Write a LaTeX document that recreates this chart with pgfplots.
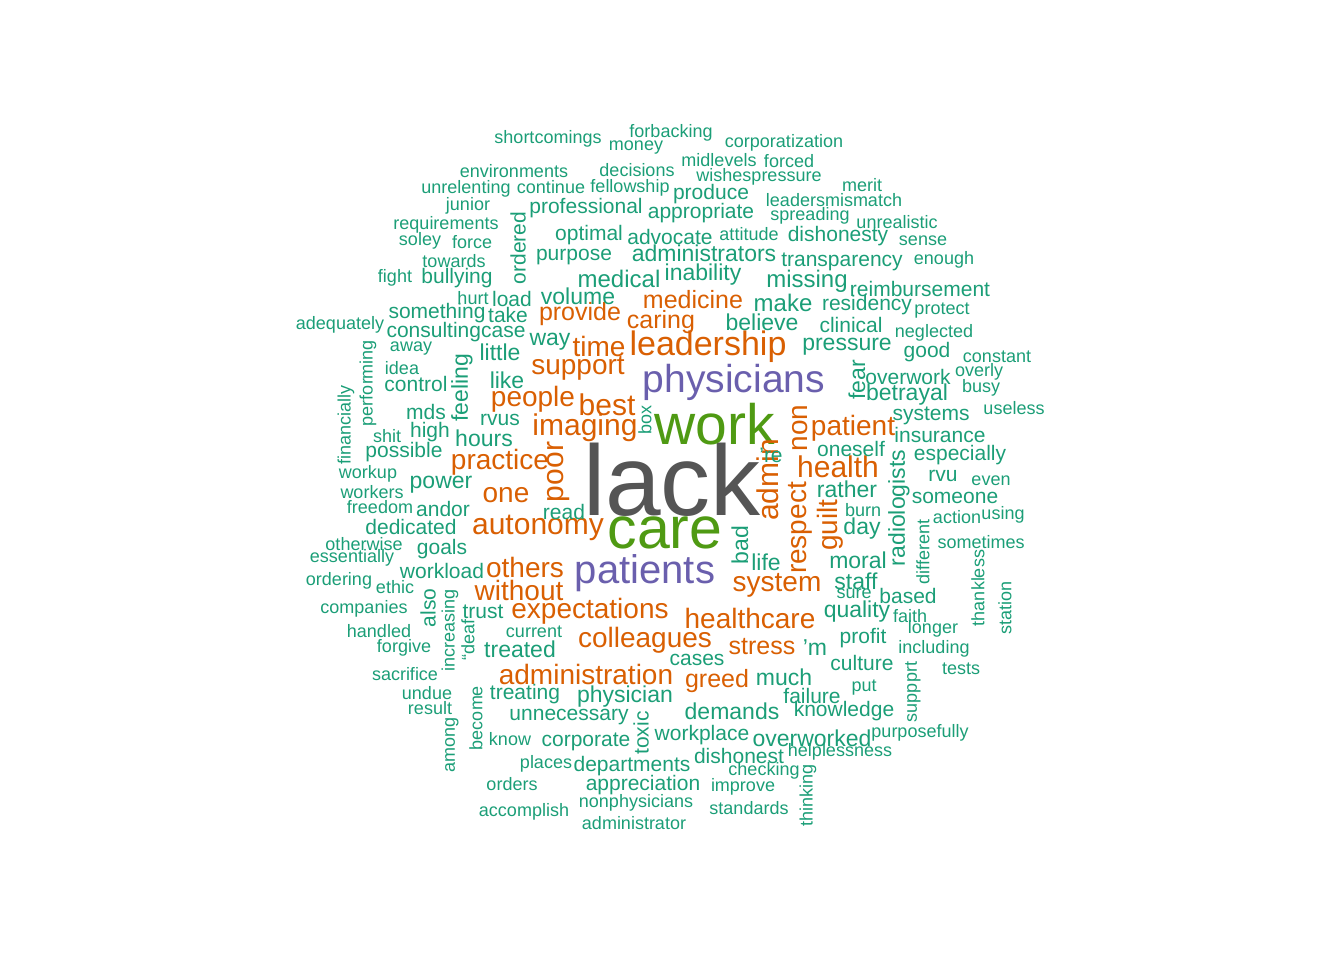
\documentclass[border=0pt]{standalone}
\usepackage{pgfplots}
\usepackage{pgfplotstable}
\pgfplotsset{compat=1.18}
\usepackage{fontspec}
\setmainfont{Liberation Sans}
\definecolor{cgray}{HTML}{555555}
\definecolor{cgreen}{HTML}{4F9A13}
\definecolor{cpurple}{HTML}{6A5FAD}
\definecolor{corange}{HTML}{D95F02}
\definecolor{cteal}{HTML}{1B9E77}
\pgfplotstableread{
x y fs rot word
672 480 100 0 lack
}\tgray
\pgfplotstableread{
x y fs rot word
715 424 57 0 work
665 533 59 0 care
}\tgreen
\pgfplotstableread{
x y fs rot word
734 382 39 0 physicians
645 573 40 0 patients
}\tpurple
\pgfplotstableread{
x y fs rot word
693 300 25 0 medicine
580 314 25 0 provide
661 322 25 0 caring
599 346 28 0 time
708 347 34 0 leadership
578 368 28 0 support
533 399 28 0 people
607 405 30 0 best
585 428 30 0 imaging
800 428 28 90 non
853 428 28 0 patient
838 467 30 0 health
500 462 28 0 practice
559 472 30 90 poor
768 480 30 90 admin
506 495 28 0 one
800 528 28 90 respect
830 525 28 90 guilt
538 528 30 0 autonomy
525 567 28 0 others
777 585 28 0 system
519 590 28 0 without
590 611 28 0 expectations
750 618 28 0 healthcare
645 640 28 0 colleagues
762 647 25 0 stress
586 674 28 0 administration
717 681 25 0 greed
}\torange
\pgfplotstableread{
x y fs rot word
548 139 18 0 shortcomings
671 133 18 0 forbacking
636 148 18 0 money
784 143 18 0 corporatization
514 171 18 0 environments
637 170 18 0 decisions
719 160 18 0 midlevels
789 161 18 0 forced
466 189 18 0 unrelenting
551 187 18 0 continue
630 188 18 0 fellowship
759 177 18 0 wishespressure
711 194 21 0 produce
862 185 18 0 merit
468 206 18 0 junior
586 208 21 0 professional
701 213 21 0 appropriate
834 200 18 0 leadersmismatch
446 225 18 0 requirements
518 248 21 90 ordered
810 216 18 0 spreading
897 222 18 0 unrealistic
420 241 18 0 soley
472 242 18 0 force
589 235 21 0 optimal
670 237 21 0 advocate
749 234 18 0 attitude
838 236 21 0 dishonesty
923 241 18 0 sense
454 261 18 0 towards
574 257 21 0 purpose
704 253 23 0 administrators
842 262 21 0 transparency
944 260 18 0 enough
395 278 18 0 fight
457 278 21 0 bullying
619 279 24 0 medical
703 275 23 0 inability
807 281 24 0 missing
920 289 21 0 reimbursement
473 298 18 0 hurt
512 299 21 0 load
578 296 23 0 volume
783 303 24 0 make
867 305 21 0 residency
340 325 18 0 adequately
437 313 21 0 something
508 315 21 0 take
762 322 23 0 believe
851 325 21 0 clinical
942 311 18 0 protect
934 333 18 0 neglected
456 332 21 0 consultingcase
411 349 18 0 away
368 383 18 90 performing
462 388 23 90 feeling
500 352 23 0 little
550 342 23 0 way
847 347 23 0 pressure
927 352 21 0 good
997 357 18 0 constant
402 368 18 0 idea
346 425 18 90 financially
416 384 21 0 control
507 380 23 0 like
908 377 21 0 overwork
979 372 18 0 overly
857 380 23 90 fear
981 388 18 0 busy
907 395 23 0 betrayal
426 412 21 0 mds
500 420 21 0 rvus
645 420 18 90 box
1014 408 18 0 useless
931 416 21 0 systems
387 436 18 0 shit
430 432 21 0 high
484 438 23 0 hours
940 435 21 0 insurance
404 452 21 0 possible
851 449 21 0 oneself
771 455 21 0 ’re
899 508 23 90 radiologists
960 455 21 0 especially
368 474 18 0 workup
943 476 21 0 rvu
441 485 23 0 power
847 489 23 0 rather
991 481 18 0 even
372 492 18 0 workers
955 498 21 0 someone
380 507 18 0 freedom
443 509 21 0 andor
564 512 21 0 read
863 510 18 0 burn
957 517 18 0 action
1003 515 18 0 using
411 527 21 0 dedicated
740 545 23 90 bad
862 529 23 0 day
923 552 18 90 different
364 544 18 0 otherwise
442 549 21 0 goals
981 542 18 0 sometimes
352 558 18 0 essentially
766 562 23 0 life
858 560 23 0 moral
442 571 21 0 workload
978 588 18 90 thankless
339 581 18 0 ordering
395 587 18 0 ethic
428 608 21 90 also
856 581 23 0 staff
854 594 18 0 sure
908 596 21 0 based
1005 608 18 90 station
364 609 18 0 companies
483 612 21 0 trust
857 612 23 0 quality
910 616 18 0 faith
450 630 18 90 increasing
468 640 18 90 “deaf
379 631 18 0 handled
534 632 18 0 current
933 629 18 0 longer
520 649 23 0 treated
815 648 23 0 ’m
863 638 21 0 profit
404 648 18 0 forgive
934 649 18 0 including
697 660 21 0 cases
862 663 21 0 culture
961 669 18 0 tests
405 674 18 0 sacrifice
784 677 23 0 much
864 688 18 0 put
913 692 18 90 suppprt
427 693 18 0 undue
525 694 21 0 treating
625 697 23 0 physician
812 696 21 0 failure
476 718 18 90 become
430 708 18 0 result
732 711 23 0 demands
844 711 21 0 knowledge
569 717 21 0 unnecessary
641 733 21 90 toxic
452 745 18 90 among
920 733 18 0 purposefully
510 739 18 0 know
586 742 21 0 corporate
702 735 21 0 workplace
812 738 23 0 overworked
840 752 18 0 helplessness
739 756 21 0 dishonest
546 764 18 0 places
632 766 21 0 departments
764 771 18 0 checking
808 795 18 90 thinking
512 784 18 0 orders
643 785 21 0 appreciation
743 787 18 0 improve
636 803 18 0 nonphysicians
749 808 18 0 standards
524 812 18 0 accomplish
634 823 18 0 administrator
}\tteal
\pgfplotsset{wc/.style={only marks, mark=none,
  point meta=explicit symbolic,
  visualization depends on={\thisrow{fs}\as\wcfs},
  visualization depends on={\thisrow{rot}\as\wcrot},
  nodes near coords={\fontsize{\wcfs pt}{\wcfs pt}\selectfont\pgfplotspointmeta},
  nodes near coords style={anchor=center, inner sep=0pt, rotate=\wcrot,
    text=#1}}}
\begin{document}
\begin{tikzpicture}
\begin{axis}[width=1344pt, height=960pt, scale only axis,
  xmin=0, xmax=1344, ymin=0, ymax=960, y dir=reverse,
  hide axis, clip=false]
\addplot[wc=cgray] table[x=x, y=y, meta=word] {\tgray};
\addplot[wc=cgreen] table[x=x, y=y, meta=word] {\tgreen};
\addplot[wc=cpurple] table[x=x, y=y, meta=word] {\tpurple};
\addplot[wc=corange] table[x=x, y=y, meta=word] {\torange};
\addplot[wc=cteal] table[x=x, y=y, meta=word] {\tteal};
\end{axis}
\pgfresetboundingbox
\path (0,0) rectangle (1344pt,960pt);
\end{tikzpicture}
\end{document}
